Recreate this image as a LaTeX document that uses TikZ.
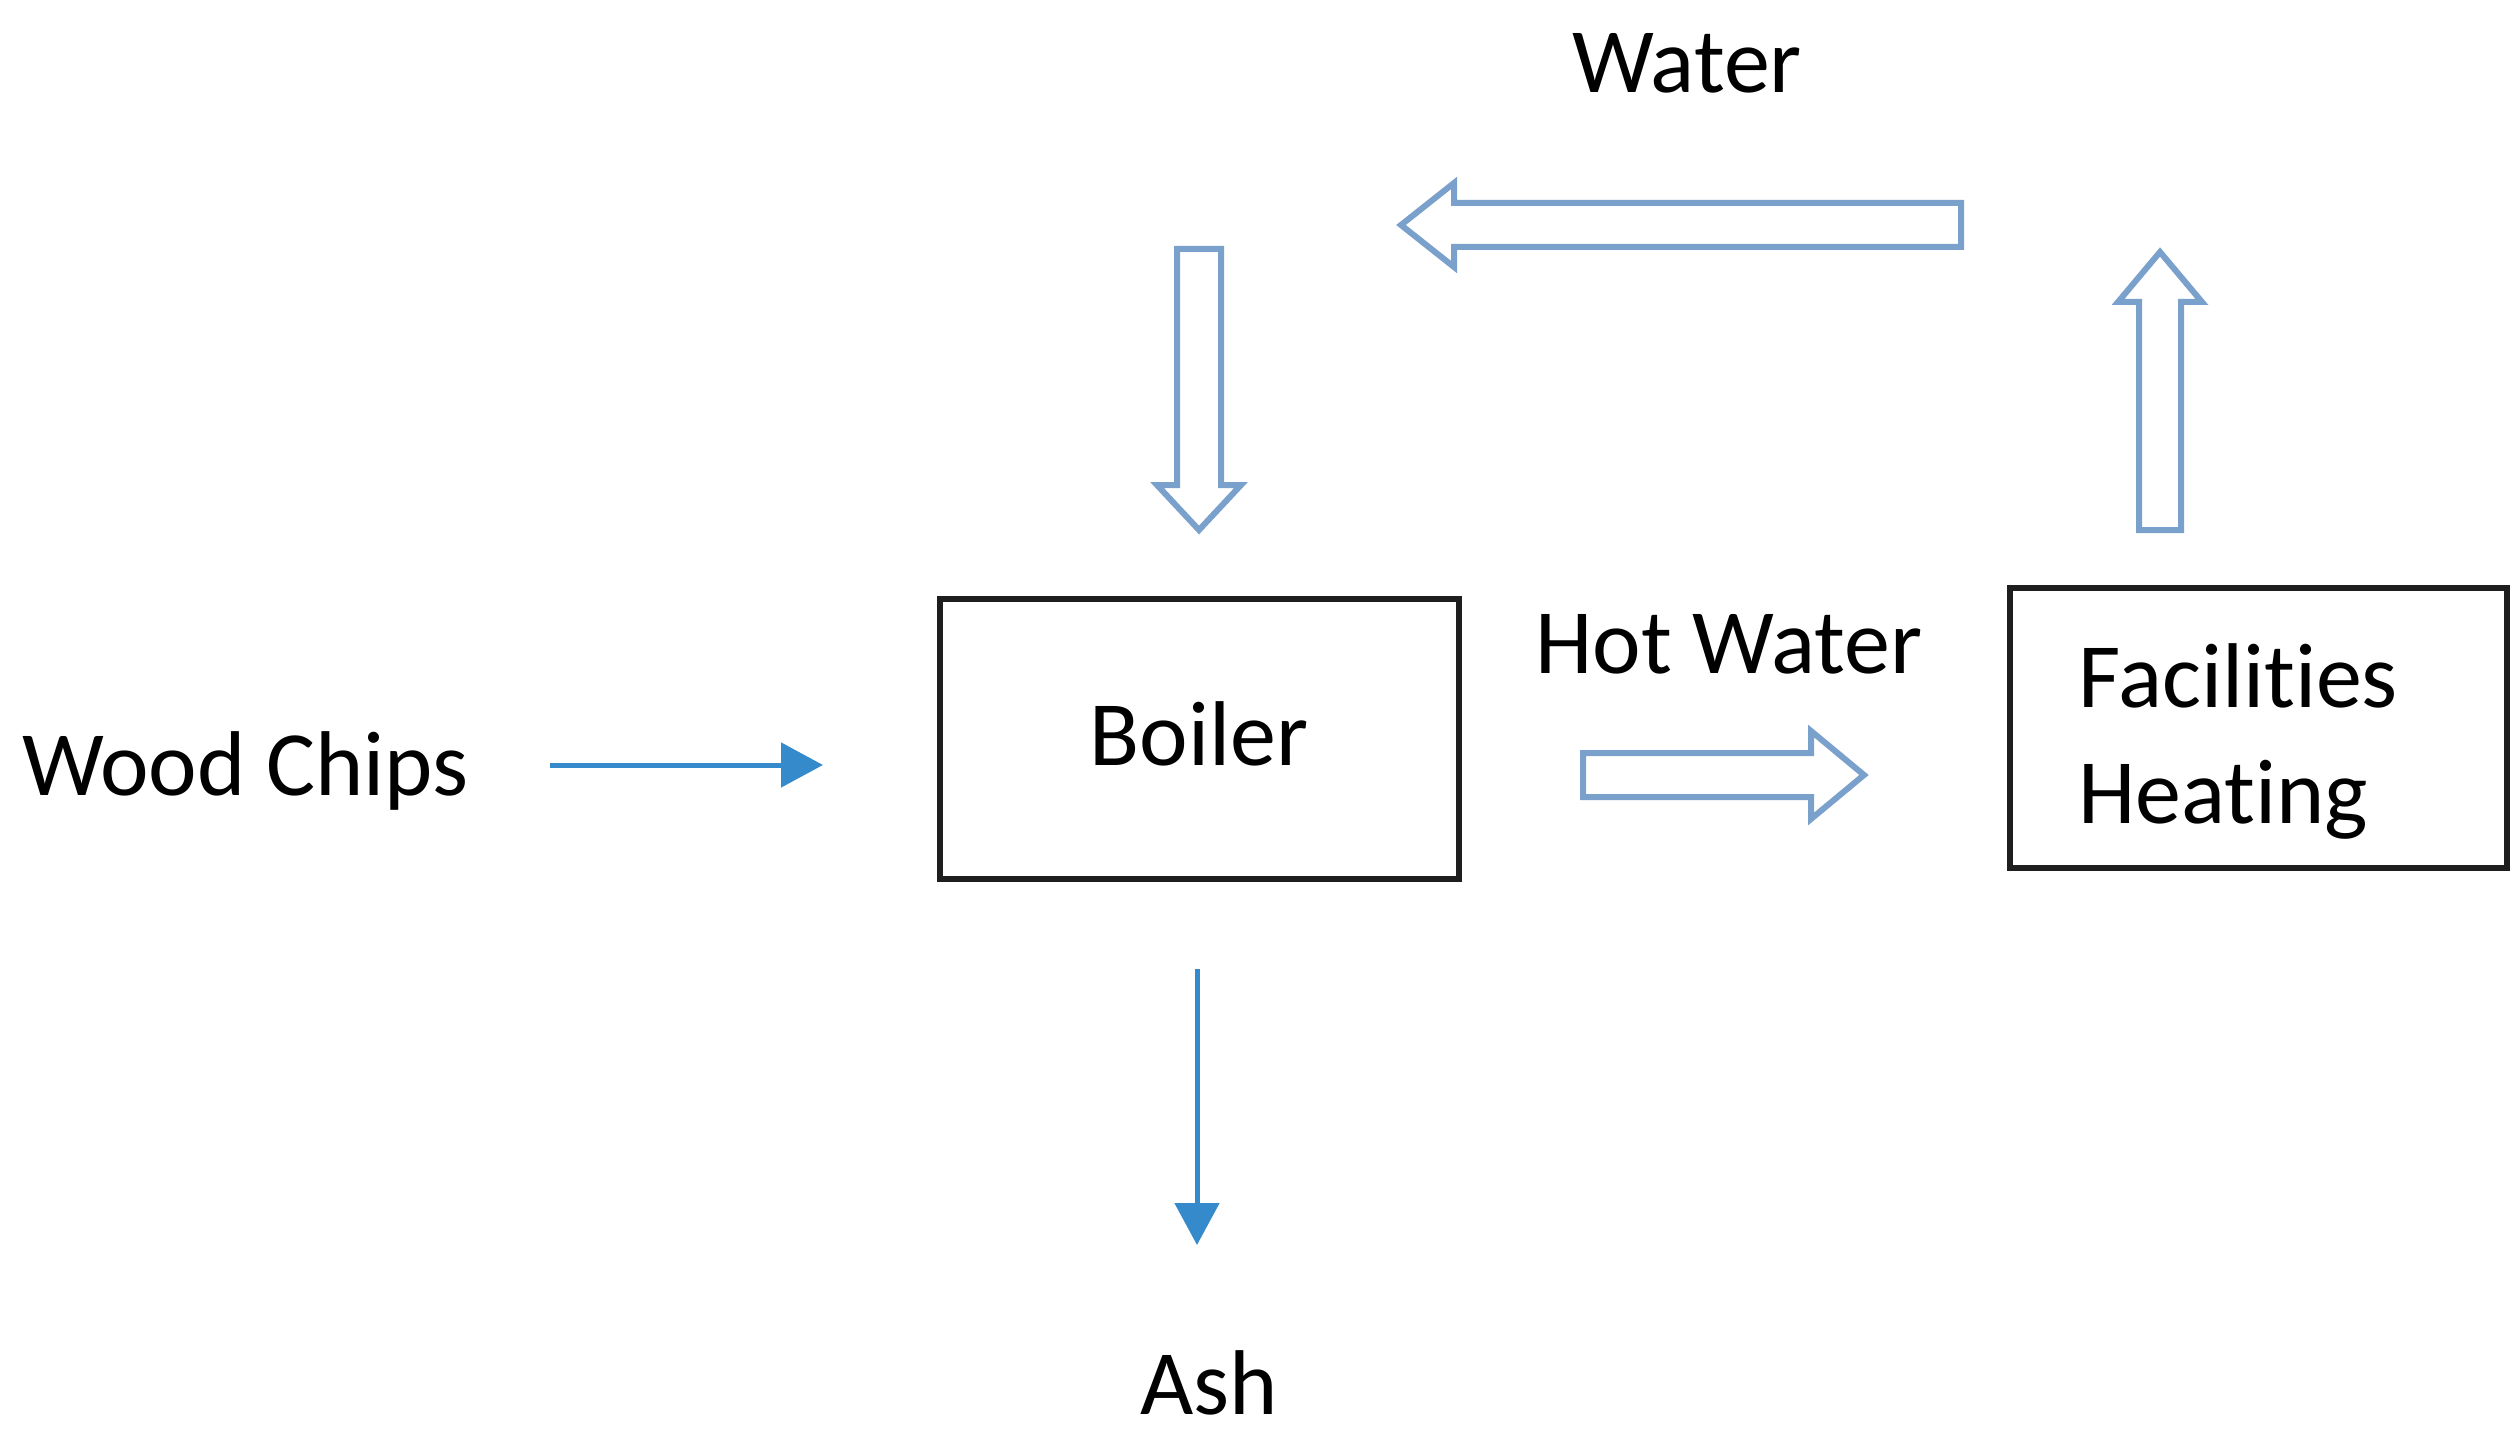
\documentclass[tikz,border=0pt]{standalone}
\usepackage{fontspec}
\setmainfont{Carlito}[Ligatures=NoCommon]
\usetikzlibrary{arrows.meta}
\definecolor{outl}{RGB}{122,160,204}
\definecolor{solid}{RGB}{52,138,202}
\definecolor{boxline}{RGB}{30,30,30}
\tikzset{
  lbl/.style={inner sep=0pt, font=\fontsize{92}{110}\selectfont, text=black},
  boxnode/.style={draw=boxline, line width=6pt, inner sep=0pt},
  blockarrow/.style={draw=outl, line width=6pt, fill=white, line join=miter},
  flowarrow/.style={draw=solid, line width=5pt, -{Triangle[length=42pt,width=44pt]}},
}
\begin{document}
\begin{tikzpicture}[x=1pt,y=-1pt]
\useasboundingbox (0,0) rectangle (2520,1455);
\fill[white] (0,0) rectangle (2520,1455);

% boxes
\node[boxnode, minimum width=519pt, minimum height=280pt] (boiler) at (1199.5,739) {};
\node[lbl, anchor=base] (boilertxt) at (1199,765) {Boiler};
\node[boxnode, minimum width=497pt, minimum height=280pt] (facil) at (2258.5,728) {};
\node[lbl, anchor=base west] (factxt1) at (2078,707) {Facilities};
\node[lbl, anchor=base west] (factxt2) at (2078,823) {Heating};

% labels
\node[lbl, anchor=base] (water) at (1687,93) {Water};
\node[lbl, anchor=base] (hotwater) at (1729,673) {Hot Water};
\node[lbl, anchor=base west] (wood) at (22,795) {Wood Chips};
\node[lbl, anchor=base] (ash) at (1209,1414) {Ash};

% block arrows
\draw[blockarrow] (1961,203) -- (1454,203) -- (1454,183) -- (1401,225) -- (1454,267) -- (1454,247) -- (1961,247) -- cycle;
\draw[blockarrow] (1177,249) -- (1221,249) -- (1221,485) -- (1241,485) -- (1199,530) -- (1157,485) -- (1177,485) -- cycle;
\draw[blockarrow] (2139,530) -- (2181,530) -- (2181,302) -- (2202,302) -- (2160,252) -- (2118,302) -- (2139,302) -- cycle;
\draw[blockarrow] (1583,753) -- (1811,753) -- (1811,731) -- (1864,775) -- (1811,819) -- (1811,797) -- (1583,797) -- cycle;

% solid arrows
\coordinate (woodstart) at (550,765);
\coordinate (woodend) at (823,765);
\coordinate (ashstart) at (1197,969);
\coordinate (ashend) at (1197,1245);
\draw[flowarrow] (woodstart) -- (woodend);
\draw[flowarrow] (ashstart) -- (ashend);
\end{tikzpicture}
\end{document}
